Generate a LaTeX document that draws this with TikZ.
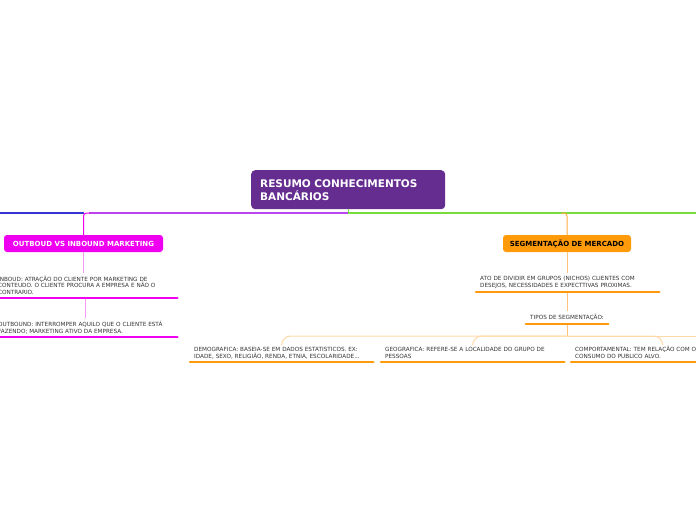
\documentclass[tikz,border=0pt]{standalone}
\usepackage{fontspec}
\setmainfont{DejaVu Sans}
\usepackage{xcolor}
\usetikzlibrary{positioning}

\definecolor{titlepurple}{HTML}{662D91}
\definecolor{boxmagenta}{HTML}{F000F0}
\definecolor{boxorange}{HTML}{FF9A0A}
\definecolor{linkviolet}{HTML}{B944F0}
\definecolor{linkblue}{HTML}{3434D8}
\definecolor{linkgreen}{HTML}{78DC3C}
\definecolor{lightmagenta}{HTML}{F49AF4}
\definecolor{lightorange}{HTML}{FFC27A}
\definecolor{paleorange}{HTML}{FFD9A6}

\begin{document}
\begin{tikzpicture}[x = 1pt, y = -1pt,
        tbox/.style = {rounded corners = 3pt, minimum height = 17, inner xsep = 0,
            font = \bfseries\fontsize{7}{8}\selectfont},
        leaf/.style = {anchor = south west, align = left, text width = 175, inner xsep = 4,
            inner ysep = 3, text = black!80, font = \fontsize{5.7}{6.8}\selectfont},
        mline/.style = {boxmagenta, line width = 2.5pt, line cap = round},
        oline/.style = {boxorange, line width = 2.5pt, line cap = round},
        mlink/.style = {lightmagenta, line width = 1pt},
        olink/.style = {lightorange, line width = 1pt},
        lowlink/.style = {paleorange, line width = 1pt, rounded corners = 9pt}]
    \useasboundingbox (0, 0) rectangle (696, 520);
    \clip (0, 0) rectangle (696, 520);

    \node [anchor = north west, fill = titlepurple, text = white, rounded corners = 4pt,
        minimum width = 194, minimum height = 39, text width = 176, inner xsep = 9,
        align = left, font = \bfseries\fontsize{10.5}{13}\selectfont]
        (root) at (251, 170) {RESUMO CONHECIMENTOS\\BANCÁRIOS};

    \node [tbox, fill = boxmagenta, text = white, minimum width = 159] (ob) at (83.5, 243.5) {OUTBOUD VS INBOUND MARKETING};
    \node [tbox, fill = boxorange, text = black, minimum width = 128] (seg) at (567, 243.5) {SEGMENTAÇÃO DE MERCADO};

    \node [leaf] (inb) at (-6, 298) {INBOUD: ATRAÇÃO DO CLIENTE POR MARKETING DE\\CONTEUDO. O CLIENTE PROCURA A EMPRESA E NÃO O\\CONTRARIO.};
    \node [leaf] (outb) at (-6, 337) {OUTBOUND: INTERROMPER AQUILO QUE O CLIENTE ESTÁ\\FAZENDO; MARKETING ATIVO DA EMPRESA.};

    \node [leaf] (ato) at (476, 292) {ATO DE DIVIDIR EM GRUPOS (NICHOS) CLIENTES COM\\DESEJOS, NECESSIDADES E EXPECTTIVAS PROXIMAS.};
    \node [anchor = south, minimum width = 82, inner ysep = 3, text = black!80,
        font = \fontsize{5.7}{6.8}\selectfont] (tipos) at (567, 324) {TIPOS DE SEGMENTAÇÃO:};

    \node [leaf] (dem) at (190, 362) {DEMOGRAFICA: BASEIA-SE EM DADOS ESTATISTICOS. EX:\\IDADE, SEXO, RELIGIÃO, RENDA, ETNIA, ESCOLARIDADE...};
    \node [leaf] (geo) at (381, 362) {GEOGRAFICA: REFERE-SE A LOCALIDADE DO GRUPO DE\\PESSOAS};
    \node [leaf] (comp) at (571, 362) {COMPORTAMENTAL: TEM RELAÇÃO COM OS\\CONSUMO DO PUBLICO ALVO.};

    \coordinate (junc) at (348, 213);
    \coordinate (offl) at (-10, 213);
    \coordinate (offr) at (706, 213);
    \coordinate (hub) at (567, 336);
    \coordinate (offhub) at (706, 336);

    \draw [linkblue, line width = 1.2pt] (offl) -- (junc -| ob.north);
    \draw [linkviolet, line width = 1.2pt] (root.south) |- ([xshift = 5]junc -| ob.north);
    \draw [boxmagenta, line width = 1pt, rounded corners = 3pt] ([xshift = 6]junc -| ob.north) -| (ob.north);
    \draw [linkgreen, line width = 1.2pt] (root.south) |- (offr);
    \draw [boxorange!80, line width = 1pt, rounded corners = 3pt] ([xshift = -6]junc -| seg.north) -| (seg.north);

    \draw [mlink] (ob.south) -- (ob.south |- inb.north);
    \draw [mlink] (inb.south) -- (inb.south |- outb.north);
    \draw [olink] (seg.south) -- (seg.south |- ato.north);
    \draw [olink] (ato.south) -- (ato.south |- tipos.north);
    \draw [olink] (tipos.south) -- (hub);

    \draw [lowlink] (hub) -- (offhub);
    \foreach \c in {dem, geo, comp}
    \draw [lowlink] (hub) -| (\c.north);

    \foreach \n in {inb, outb}
    \draw [mline] (\n.south west) -- (\n.south east);
    \foreach \n in {ato, tipos, dem, geo, comp}
    \draw [oline] (\n.south west) -- (\n.south east);
\end{tikzpicture}
\end{document}
